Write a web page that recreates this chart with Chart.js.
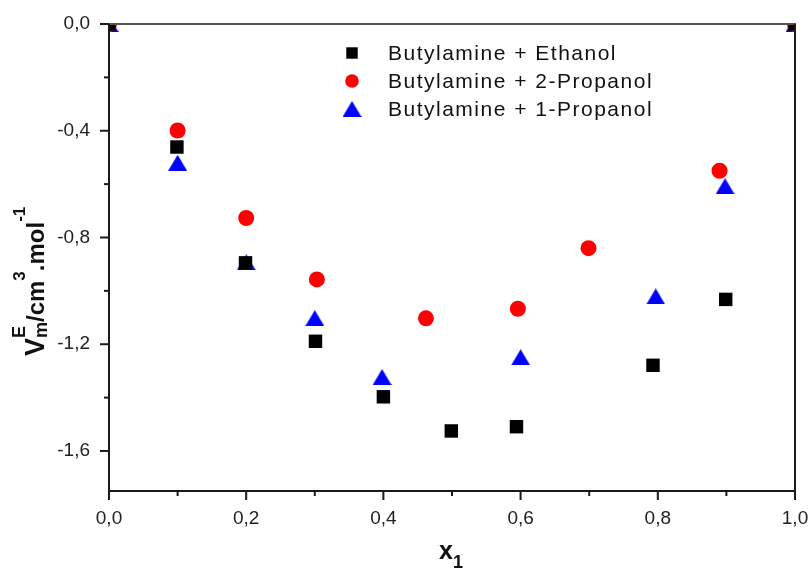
<!DOCTYPE html>
<html>
<head>
<meta charset="utf-8">
<title>Excess molar volume</title>
<script src="https://cdn.jsdelivr.net/npm/chart.js@4.4.1/dist/chart.umd.min.js"></script>
<style>
  html, body { margin: 0; padding: 0; background: #fff; }
  #wrap { width: 809px; height: 569px; }
</style>
</head>
<body>
<div id="wrap"><canvas id="grafico" width="809" height="569"></canvas></div>
<script>
const FONT = "'Liberation Sans', Arial, sans-serif";

const seriesLabels = ['Butylamine + Ethanol', 'Butylamine + 2-Propanol', 'Butylamine + 1-Propanol'];
const seriesColors = ['#000000', '#ff0000', '#0000ff'];

// mole fraction x1 and V^E_m (cm3/mol) for each mixture
const ethanolX = [0, 0.099, 0.199, 0.301, 0.400, 0.499, 0.594, 0.793, 0.899, 1.0];
const ethanolY = [0, -0.461, -0.895, -1.189, -1.397, -1.525, -1.509, -1.279, -1.032, 0];

const propanol2X = [0, 0.100, 0.200, 0.303, 0.462, 0.596, 0.699, 0.890, 1.0];
const propanol2Y = [0, -0.399, -0.727, -0.957, -1.103, -1.067, -0.840, -0.550, 0];

const propanol1X = [0, 0.100, 0.200, 0.300, 0.398, 0.600, 0.797, 0.898, 1.0];
const propanol1Y = [0, -0.520, -0.893, -1.102, -1.323, -1.249, -1.021, -0.608, 0];

const xTicks = [0, 0.2, 0.4, 0.6, 0.8, 1.0];
const xMinorTicks = [0.1, 0.3, 0.5, 0.7, 0.9];
const yTicks = [0, -0.4, -0.8, -1.2, -1.6];
const yMinorTicks = [-0.2, -0.6, -1.0, -1.4];

function toPoints(xs, ys) {
    return xs.map((x, i) => ({ x: x, y: ys[i] }));
}

function formatComma(v) {
    const s = Number(v).toFixed(1).replace('.', ',');
    return s === '-0,0' ? '0,0' : s;
}

// triangle marker centred on its bounding box
function makeTriangle(color) {
    const c = document.createElement('canvas');
    c.width = 19;
    c.height = 16;
    const g = c.getContext('2d');
    g.fillStyle = color;
    g.beginPath();
    g.moveTo(9.5, 0);
    g.lineTo(19, 16);
    g.lineTo(0, 16);
    g.closePath();
    g.fill();
    return c;
}

const triangle = makeTriangle(seriesColors[2]);

const frameAndTicks = {
    id: 'frameAndTicks',
    beforeDraw(chart) {
        const ctx = chart.ctx;
        ctx.save();
        ctx.fillStyle = '#ffffff';
        ctx.fillRect(0, 0, chart.width, chart.height);
        ctx.restore();
    },
    afterDatasetsDraw(chart) {
        const { ctx, chartArea: a, scales: { x, y } } = chart;
        const seg = (x1, y1, x2, y2) => {
            ctx.beginPath();
            ctx.moveTo(x1, y1);
            ctx.lineTo(x2, y2);
            ctx.stroke();
        };
        ctx.save();
        ctx.lineWidth = 2;
        ctx.strokeStyle = '#555555';
        seg(a.left, a.top, a.right + 1, a.top);
        ctx.strokeStyle = '#1a1a1a';
        seg(a.left, a.top, a.left, a.bottom + 1);
        seg(a.left - 1, a.bottom, a.right + 1, a.bottom);
        seg(a.right, a.top, a.right, a.bottom);

        xTicks.forEach(v => {
            const px = x.getPixelForValue(v);
            seg(px, a.bottom, px, a.bottom + 9);
        });
        xMinorTicks.forEach(v => {
            const px = x.getPixelForValue(v);
            seg(px, a.bottom, px, a.bottom + 5);
        });
        yTicks.forEach(v => {
            const py = y.getPixelForValue(v);
            seg(a.left - 9, py, a.left, py);
        });
        yMinorTicks.forEach(v => {
            const py = y.getPixelForValue(v);
            seg(a.left - 5, py, a.left, py);
        });
        ctx.restore();
    }
};

// draws runs of text with super/subscripts along one baseline
function drawRich(ctx, groups, x0, y0) {
    let x = x0;
    groups.forEach(group => {
        let adv = 0;
        group.forEach(p => {
            ctx.font = 'bold ' + p.size + 'px ' + FONT;
            ctx.fillText(p.text, x, y0 + (p.shift || 0));
            adv = Math.max(adv, ctx.measureText(p.text).width);
        });
        x += adv;
    });
}

const axisTitles = {
    id: 'axisTitles',
    afterDraw(chart) {
        const { ctx, chartArea: a } = chart;
        ctx.save();
        ctx.fillStyle = '#111111';
        ctx.textBaseline = 'alphabetic';
        ctx.textAlign = 'left';

        // V^E_m / cm^3 . mol^-1, read bottom to top
        ctx.save();
        ctx.translate(a.left - 65, a.bottom - 135);
        ctx.rotate(-Math.PI / 2);
        drawRich(ctx, [
            [{ text: 'V', size: 27 }],
            [{ text: 'E', size: 18, shift: -19 }, { text: 'm', size: 18, shift: 3 }],
            [{ text: '/cm', size: 24 }],
            [{ text: '3', size: 17, shift: -19 }],
            [{ text: '.mol', size: 24 }],
            [{ text: '-1', size: 17, shift: -19 }]
        ], 0, 0);
        ctx.restore();

        // x_1
        const cx = (a.left + a.right) / 2;
        drawRich(ctx, [
            [{ text: 'x', size: 25 }],
            [{ text: '1', size: 18, shift: 9 }]
        ], cx - 13, a.bottom + 68);
        ctx.restore();
    }
};

const markerLegend = {
    id: 'markerLegend',
    afterDraw(chart) {
        const { ctx, chartArea: a } = chart;
        const rowY = [53, 81, 109];
        const markerX = a.left + 243;
        const textX = a.left + 279;
        ctx.save();
        ctx.font = '21px ' + FONT;
        if ('letterSpacing' in ctx) ctx.letterSpacing = '1.5px';
        ctx.textBaseline = 'middle';
        ctx.textAlign = 'left';
        chart.data.datasets.forEach((ds, i) => {
            ctx.fillStyle = ds.backgroundColor;
            Chart.helpers.drawPoint(ctx, {
                pointStyle: ds.pointStyle,
                radius: ds.pointRadius * 0.85,
                rotation: 0,
                borderWidth: 0
            }, markerX, rowY[i]);
            ctx.fillStyle = '#111111';
            ctx.fillText(seriesLabels[i], textX, rowY[i] + 1);
        });
        ctx.restore();
    }
};

// keep the plot frame where the layout padding puts it
function noEdgePadding(s) {
    s.paddingLeft = 0;
    s.paddingRight = 0;
    s.paddingTop = 0;
    s.paddingBottom = 0;
}

const ctx = document.getElementById('grafico');

new Chart(ctx, {
    type: 'scatter',
    data: {
        datasets: [
            {
                label: seriesLabels[0],
                data: toPoints(ethanolX, ethanolY),
                pointStyle: 'rect',
                pointRadius: 9.5,
                backgroundColor: seriesColors[0],
                borderWidth: 0,
                clip: 0
            },
            {
                label: seriesLabels[1],
                data: toPoints(propanol2X, propanol2Y),
                pointStyle: 'circle',
                pointRadius: 8,
                backgroundColor: seriesColors[1],
                borderWidth: 0,
                clip: 0
            },
            {
                label: seriesLabels[2],
                data: toPoints(propanol1X, propanol1Y),
                pointStyle: triangle,
                pointRadius: 10,
                backgroundColor: seriesColors[2],
                borderWidth: 0,
                clip: 0
            }
        ]
    },
    options: {
        responsive: false,
        animation: false,
        events: [],
        layout: { padding: { left: 0, right: 14, top: 24, bottom: 0 } },
        plugins: {
            legend: { display: false },
            tooltip: { enabled: false }
        },
        scales: {
            x: {
                type: 'linear',
                min: 0,
                max: 1,
                grid: { display: false },
                border: { display: false },
                afterBuildTicks: s => { s.ticks = xTicks.map(v => ({ value: v })); },
                afterFit: s => { s.height = 78; noEdgePadding(s); },
                ticks: {
                    padding: 8,
                    color: '#222222',
                    autoSkip: false,
                    maxRotation: 0,
                    font: { family: FONT, size: 19 },
                    callback: v => formatComma(v)
                }
            },
            y: {
                type: 'linear',
                min: -1.75,
                max: 0,
                grid: { display: false },
                border: { display: false },
                afterBuildTicks: s => { s.ticks = yTicks.map(v => ({ value: v })); },
                afterFit: s => { s.width = 109; noEdgePadding(s); },
                ticks: {
                    padding: 11,
                    color: '#222222',
                    autoSkip: false,
                    font: { family: FONT, size: 19 },
                    callback: v => formatComma(v)
                }
            }
        }
    },
    plugins: [frameAndTicks, axisTitles, markerLegend]
});
</script>
</body>
</html>
